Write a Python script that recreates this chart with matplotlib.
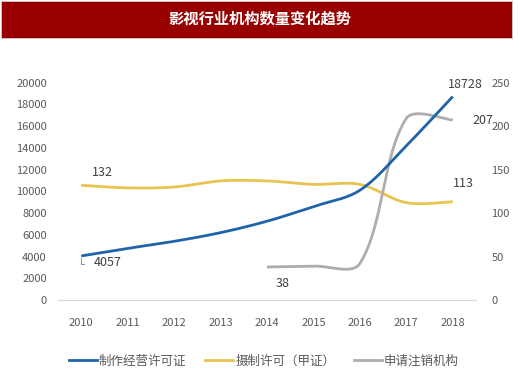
import numpy as np
import matplotlib.pyplot as plt
from matplotlib.patches import Rectangle

plt.rcParams['font.family'] = ['Noto Sans CJK SC', 'DejaVu Sans']

years = [2010, 2011, 2012, 2013, 2014, 2015, 2016, 2017, 2018]
licence = [4057, 4750, 5400, 6200, 7250, 8600, 10100, 14200, 18728]      # 制作经营许可证
jia = [132, 129, 130, 137, 137, 133, 133, 112, 113]                        # 摄制许可（甲证）
cancel_years = [2014, 2015, 2016, 2017, 2018]
cancel = [38, 39, 42, 209, 207]                                            # 申请注销机构

title = '影视行业机构数量变化趋势'
names = ['制作经营许可证', '摄制许可（甲证）', '申请注销机构']
colors = ['#1f64a8', '#e8c44e', '#adadad']
tick_color = '#595959'


def smooth(x, y, sx, sy, n=40):
    # Excel-like smoothed line: bezier through the points, control arms
    # scaled by the neighbouring segment lengths (measured in pixels)
    P = np.column_stack([np.asarray(x, float) * sx, np.asarray(y, float) * sy])
    m = len(P)
    px, py = [], []
    for i in range(m - 1):
        p0 = P[i - 1] if i > 0 else P[i]
        p1, p2 = P[i], P[i + 1]
        p3 = P[i + 2] if i + 2 < m else P[i + 1]
        l0 = np.linalg.norm(p1 - p0)
        l1 = np.linalg.norm(p2 - p1)
        l2 = np.linalg.norm(p3 - p2)
        c1 = p1 + (p2 - p0) * (l1 / (l0 + l1) / 3 if l0 > 0 else 1 / 6)
        c2 = p2 - (p3 - p1) * (l1 / (l1 + l2) / 3 if l2 > 0 else 1 / 6)
        t = np.linspace(0, 1, n)[:, None]
        pts = (1 - t) ** 3 * p1 + 3 * t * (1 - t) ** 2 * c1 + 3 * t ** 2 * (1 - t) * c2 + t ** 3 * p2
        px.extend(pts[:, 0] / sx)
        py.extend(pts[:, 1] / sy)
    return px, py


fig = plt.figure(figsize=(5.2, 3.75), dpi=100)
fig.patch.set_facecolor('white')

# title bar
fig.patches.append(Rectangle((1 / 520, 1 - 38 / 375), 511 / 520, 37 / 375,
                             transform=fig.transFigure, facecolor='#990000',
                             edgecolor='#cccccc', lw=0.6, zorder=0))
fig.text(260 / 520, 1 - 19 / 375, title, color='white', fontsize=11,
         fontweight='bold', ha='center', va='center')

ax = fig.add_axes([58 / 520, 75 / 375, 418 / 520, 217.3 / 375])
ax2 = ax.twinx()

xs = 46.5            # px per year
ls = 217.3 / 20000   # px per unit, left axis
rs = 217.3 / 250     # px per unit, right axis

sx, sy = smooth(years, licence, xs, ls)
ax.plot(sx, sy, color=colors[0], lw=2, solid_capstyle='butt', zorder=3)
sx, sy = smooth(years, jia, xs, rs)
ax2.plot(sx, sy, color=colors[1], lw=2, solid_capstyle='butt')
sx, sy = smooth(cancel_years, cancel, xs, rs)
ax2.plot(sx, sy, color=colors[2], lw=2, solid_capstyle='butt')

ax.set_xlim(2009.5, 2018.5)
ax.set_ylim(0, 20000)
ax.set_yticks(range(0, 20001, 2000))
ax2.set_ylim(0, 250)
ax2.set_yticks(range(0, 251, 50))
ax.set_xticks(years)

for a in (ax, ax2):
    for s in ['top', 'left', 'right']:
        a.spines[s].set_visible(False)
    a.spines['bottom'].set_color('#d9d9d9')
    a.tick_params(length=0, colors=tick_color, labelsize=8)
ax2.spines['bottom'].set_visible(False)
ax.tick_params(axis='x', pad=13)
ax.tick_params(axis='y', pad=8)
ax2.tick_params(axis='y', pad=11)
ax.set_zorder(ax2.get_zorder() + 1)
ax.patch.set_visible(False)

lab = dict(color='#404040', fontsize=9)
ax2.annotate(str(jia[0]), (years[0], jia[0]), xytext=(15, 9.5),
             textcoords='offset points', ha='center', va='center', **lab)
ax.annotate(str(licence[0]), (years[0], licence[0]), xytext=(19, -5),
            textcoords='offset points', ha='center', va='center', **lab)
ax.plot([2010, 2010, 2010.06], [licence[0] - 150, licence[0] - 700, licence[0] - 700],
        color='#7f7f7f', lw=0.6)
ax2.annotate(str(cancel[0]), (cancel_years[0], cancel[0]), xytext=(11, -12),
             textcoords='offset points', ha='center', va='center', **lab)
ax.annotate(str(licence[-1]), (years[-1], licence[-1]), xytext=(9, 9),
            textcoords='offset points', ha='center', va='center', **lab)
ax2.annotate(str(cancel[-1]), (cancel_years[-1], cancel[-1]), xytext=(22, 0),
             textcoords='offset points', ha='center', va='center', **lab)
ax2.annotate(str(jia[-1]), (years[-1], jia[-1]), xytext=(8, 13),
             textcoords='offset points', ha='center', va='center', **lab)

handles = [plt.Line2D([], [], color=c, lw=2) for c in colors]
fig.legend(handles, names, loc='center', bbox_to_anchor=(264 / 520, 1 - 361 / 375),
           ncol=3, frameon=False, fontsize=9, handlelength=2.2, handletextpad=0.2,
           columnspacing=1.5, labelcolor=tick_color)

fig.savefig('out.png', dpi=100)
